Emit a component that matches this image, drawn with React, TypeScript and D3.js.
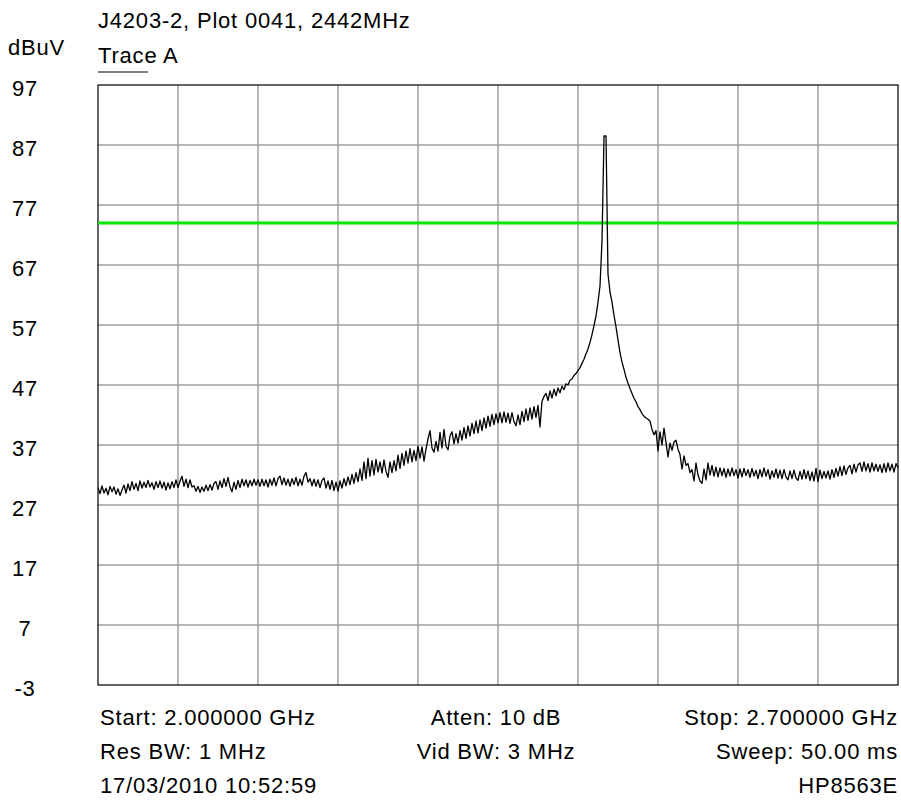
import { useEffect, useRef } from 'react';
import * as d3 from 'd3';

// Sweep settings (MHz) and display range (dBuV)
const startMHz = 2000;
const stopMHz = 2700;
const refLevel = 97;
const bottomLevel = -3;
const limitLine = 74;

const yTickLabels = ['97', '87', '77', '67', '57', '47', '37', '27', '17', '7', '-3'];

const title = 'J4203-2, Plot 0041, 2442MHz';
const unitLabel = 'dBuV';
const traceLabel = 'Trace A';

const footerLeft = ['Start: 2.000000 GHz', 'Res BW: 1 MHz', '17/03/2010 10:52:59'];
const footerMid = ['Atten: 10 dB', 'Vid BW: 3 MHz', ''];
const footerRight = ['Stop: 2.700000 GHz', 'Sweep: 50.00 ms', 'HP8563E'];

// Trace A levels, evenly spaced sweep points from start to stop
const traceA = [
  29.9, 28.9, 30.2, 29.0, 29.8, 28.7, 30.1, 29.2, 30.0, 28.8, 29.7, 28.6, 29.5, 30.3, 29.0, 30.5, 29.4, 30.9, 29.6, 30.6,
  29.4, 31.0, 29.8, 30.8, 29.9, 31.1, 30.0, 30.7, 29.6, 30.9, 29.9, 31.0, 29.8, 30.8, 29.5, 30.7, 29.7, 30.9, 29.9, 31.2,
  29.9, 31.0, 31.8, 30.1, 31.3, 29.9, 31.2, 30.0, 30.2, 29.3, 30.1, 29.1, 30.0, 29.3, 30.3, 29.4, 30.4, 29.5, 30.6, 30.9,
  29.6, 31.0, 29.9, 31.4, 30.1, 31.6, 30.0, 29.2, 30.8, 29.6, 31.1, 29.9, 31.3, 30.2, 31.2, 30.0, 31.1, 30.2, 31.3, 30.3,
  31.2, 30.1, 31.3, 30.2, 31.2, 30.0, 31.3, 30.3, 31.5, 30.2, 31.4, 31.8, 30.4, 31.5, 30.3, 31.3, 30.1, 31.4, 30.4, 31.6,
  30.2, 31.3, 30.3, 31.8, 32.4, 30.8, 31.4, 30.2, 31.3, 30.1, 31.2, 29.9, 31.1, 31.5, 29.8, 31.0, 29.6, 31.1, 29.4, 30.8,
  29.3, 31.0, 29.8, 31.4, 30.2, 31.7, 30.4, 32.1, 30.6, 32.4, 30.9, 33.0, 31.1, 34.2, 31.4, 34.8, 31.8, 34.4, 32.0, 34.6,
  32.5, 34.2, 32.3, 34.5, 32.6, 31.6, 34.2, 32.4, 34.4, 32.7, 35.3, 33.1, 35.6, 33.6, 36.0, 34.0, 36.4, 34.2, 36.1, 34.4,
  36.8, 34.8, 36.7, 34.3, 36.3, 38.0, 39.4, 36.5, 35.8, 37.6, 36.0, 39.1, 36.5, 39.6, 36.8, 36.2, 38.5, 39.2, 37.2, 38.9,
  37.3, 39.4, 37.8, 39.9, 38.1, 40.2, 38.5, 40.6, 38.9, 41.0, 39.0, 41.2, 39.4, 41.5, 39.8, 41.8, 40.1, 42.1, 40.4, 42.2,
  40.7, 42.4, 40.7, 42.5, 40.8, 42.3, 40.6, 42.4, 40.9, 40.2, 42.0, 40.4, 42.6, 40.9, 43.0, 41.1, 43.2, 41.3, 43.4, 41.6,
  43.6, 40.0, 44.3, 45.1, 45.6, 44.4, 46.0, 44.8, 46.3, 45.2, 46.5, 45.7, 46.8, 46.2, 47.2, 47.0, 47.8, 48.0, 48.6, 48.9,
  49.4, 49.9, 50.6, 51.3, 52.2, 53.0, 54.1, 55.4, 56.9, 58.5, 60.8, 63.5, 71.0, 88.5, 88.5, 65.5, 62.5, 60.8, 58.6, 56.7,
  54.5, 52.4, 50.8, 49.6, 48.3, 47.3, 46.4, 45.6, 44.8, 44.2, 43.4, 42.9, 42.2, 41.8, 41.5, 41.3, 41.0, 39.6, 38.7, 39.4,
  36.0, 39.2, 37.0, 39.8, 37.4, 35.0, 37.3, 36.1, 37.5, 37.8, 36.3, 35.4, 33.0, 35.2, 33.6, 33.9, 32.4, 32.9, 31.0, 34.0,
  32.0, 31.0, 30.6, 33.0, 31.2, 34.0, 32.0, 33.6, 31.8, 33.3, 31.7, 33.2, 31.9, 33.1, 31.6, 33.0, 31.8, 33.2, 31.9, 32.9,
  31.5, 33.0, 31.7, 33.1, 31.9, 32.9, 31.6, 33.1, 31.8, 32.8, 31.4, 32.9, 31.7, 33.2, 31.8, 32.9, 31.3, 32.7, 31.6, 33.0,
  31.5, 32.8, 31.4, 32.9, 31.7, 31.2, 32.7, 31.4, 32.8, 31.5, 31.1, 32.6, 31.3, 32.9, 31.4, 32.7, 31.1, 32.5, 31.0, 33.1,
  30.9, 32.8, 31.4, 32.6, 31.5, 32.7, 31.3, 32.9, 31.6, 33.1, 31.8, 33.4, 31.9, 33.5, 32.1, 33.2, 33.6, 32.2, 33.8, 32.5,
  33.7, 34.0, 32.6, 34.2, 32.7, 33.9, 32.5, 34.0, 32.7, 33.8, 32.6, 33.7, 32.4, 33.9, 32.5, 34.0, 32.7, 33.8, 32.5, 33.9,
  33.2,
];

const W = 901;
const H = 805;
const FONT = '"Liberation Sans", Arial, sans-serif';

export default function App() {
  const svgRef = useRef<SVGSVGElement>(null);

  useEffect(() => {
    if (!svgRef.current) return;
    const root = d3.select(svgRef.current);
    root.selectAll('*').remove();

    const margin = { top: 85, right: 3, bottom: 120, left: 98 };
    const width = W - margin.left - margin.right;
    const height = H - margin.top - margin.bottom;

    const svg = root
      .attr('width', W)
      .attr('height', H)
      .append('g')
      .attr('transform', `translate(${margin.left},${margin.top})`);

    const xScale = d3.scaleLinear().domain([startMHz, stopMHz]).range([0, width]);
    const yScale = d3.scaleLinear().domain([bottomLevel, refLevel]).range([height, 0]);

    // grid: 10 x 10 divisions
    const xTicks = d3.range(0, 11).map((i) => startMHz + (i * (stopMHz - startMHz)) / 10);
    const yTicks = yTickLabels.map(Number);

    svg
      .append('g')
      .attr('class', 'grid-x')
      .selectAll('line')
      .data(xTicks.slice(1, -1))
      .enter()
      .append('line')
      .attr('x1', (d) => xScale(d))
      .attr('x2', (d) => xScale(d))
      .attr('y1', 0)
      .attr('y2', height)
      .attr('stroke', '#a0a0a0')
      .attr('stroke-width', 1.5);

    svg
      .append('g')
      .attr('class', 'grid-y')
      .selectAll('line')
      .data(yTicks.slice(1, -1))
      .enter()
      .append('line')
      .attr('x1', 0)
      .attr('x2', width)
      .attr('y1', (d) => yScale(d))
      .attr('y2', (d) => yScale(d))
      .attr('stroke', '#a0a0a0')
      .attr('stroke-width', 1.5);

    // frame
    svg
      .append('rect')
      .attr('x', 0)
      .attr('y', 0)
      .attr('width', width)
      .attr('height', height)
      .attr('fill', 'none')
      .attr('stroke', '#000')
      .attr('stroke-width', 1.2);

    // limit line
    svg
      .append('line')
      .attr('x1', 0)
      .attr('x2', width)
      .attr('y1', yScale(limitLine))
      .attr('y2', yScale(limitLine))
      .attr('stroke', '#00e600')
      .attr('stroke-width', 3);

    // trace
    const step = (stopMHz - startMHz) / (traceA.length - 1);
    const line = d3
      .line<number>()
      .x((_, i) => xScale(startMHz + i * step))
      .y((d) => yScale(d));

    svg
      .append('path')
      .datum(traceA)
      .attr('d', line)
      .attr('fill', 'none')
      .attr('stroke', '#000')
      .attr('stroke-width', 1.3)
      .attr('stroke-linejoin', 'round');

    const text = (sel: d3.Selection<any, any, any, any>) =>
      sel
        .attr('font-family', FONT)
        .attr('font-size', 22)
        .attr('letter-spacing', 0.8)
        .attr('fill', '#000');

    // y tick labels
    root
      .append('g')
      .selectAll('text')
      .data(yTicks)
      .enter()
      .append('text')
      .call(text)
      .attr('x', 25)
      .attr('y', (d) => margin.top + yScale(d) + 11)
      .attr('text-anchor', 'middle')
      .text((_, i) => yTickLabels[i]);

    root.append('text').call(text).attr('x', 8).attr('y', 55).text(unitLabel);
    root.append('text').call(text).attr('x', margin.left).attr('y', 28).text(title);
    root.append('text').call(text).attr('x', margin.left).attr('y', 63).text(traceLabel);
    root
      .append('line')
      .attr('x1', margin.left)
      .attr('x2', margin.left + 50)
      .attr('y1', 72)
      .attr('y2', 72)
      .attr('stroke', '#000')
      .attr('stroke-width', 1.2);

    // footer
    const rows = [725, 759, 793];
    rows.forEach((y, i) => {
      root.append('text').call(text).attr('x', margin.left + 2).attr('y', y).text(footerLeft[i]);
      if (footerMid[i])
        root
          .append('text')
          .call(text)
          .attr('x', margin.left + width / 2 - 2)
          .attr('y', y)
          .attr('text-anchor', 'middle')
          .text(footerMid[i]);
      root
        .append('text')
        .call(text)
        .attr('x', margin.left + width)
        .attr('y', y)
        .attr('text-anchor', 'end')
        .text(footerRight[i]);
    });
  }, []);

  return (
    <div style={{ position: 'absolute', left: 0, top: 0, background: '#fff' }}>
      <svg ref={svgRef} style={{ display: 'block' }}></svg>
    </div>
  );
}
